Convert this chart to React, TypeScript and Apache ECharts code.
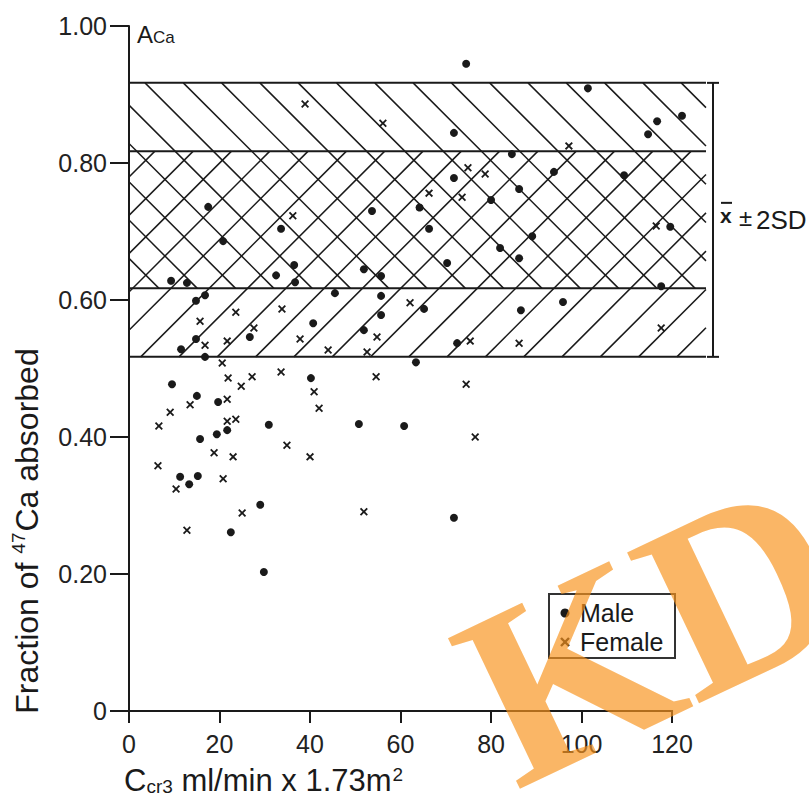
import React, { useEffect, useRef } from "react";
import * as echarts from "echarts";

// ---- data ----
const xTicks = [0, 20, 40, 60, 80, 100, 120];
const yTicks = [0, 0.2, 0.4, 0.6, 0.8, 1.0];

const maleX = [17.5, 53.7, 64.2, 33.6, 20.8, 36.5, 32.5, 9.3, 12.8, 36.7, 51.9, 55.7, 45.5, 55.7, 16.8, 14.8,
  40.7, 55.7, 51.9, 26.7, 14.8, 11.5, 16.8, 63.4, 74.5, 101.4, 116.7, 122.2, 114.7, 71.8, 84.6, 93.9,
  109.4, 71.8, 86.2, 80.0, 66.3, 119.6, 89.1, 82.0, 86.2, 70.3, 117.6, 65.2, 95.9, 86.6, 72.5, 40.2,
  9.5, 15.0, 19.7, 30.9, 50.8, 60.8, 19.4, 21.7, 15.7, 11.3, 15.2, 13.3, 29.0, 22.5, 29.8, 71.8];
const maleY = [0.736, 0.730, 0.735, 0.704, 0.686, 0.651, 0.636, 0.628, 0.625, 0.626, 0.645, 0.635, 0.610, 0.606, 0.607, 0.599,
  0.566, 0.578, 0.556, 0.546, 0.543, 0.528, 0.517, 0.509, 0.945, 0.909, 0.861, 0.869, 0.842, 0.844, 0.813, 0.787,
  0.782, 0.778, 0.762, 0.746, 0.704, 0.707, 0.693, 0.676, 0.661, 0.654, 0.620, 0.587, 0.597, 0.585, 0.537, 0.486,
  0.477, 0.460, 0.451, 0.418, 0.419, 0.416, 0.404, 0.410, 0.397, 0.342, 0.343, 0.331, 0.301, 0.261, 0.203, 0.282];

const femaleX = [38.9, 56.1, 36.2, 62.1, 33.8, 23.6, 15.7, 54.8, 27.6, 37.8, 16.8, 21.7, 44.0, 52.6, 20.6,
  97.2, 74.9, 78.7, 66.3, 73.6, 116.5, 117.6, 75.4, 86.2, 21.9, 24.8, 27.2, 33.6, 40.9, 42.0, 54.6,
  13.5, 21.7, 9.1, 21.7, 23.6, 6.6, 34.9, 40.0, 18.8, 23.0, 6.4, 20.8, 10.4, 25.0, 12.8, 51.9, 74.5, 76.5];
const femaleY = [0.886, 0.858, 0.723, 0.596, 0.587, 0.582, 0.569, 0.546, 0.559, 0.543, 0.534, 0.540, 0.527, 0.524, 0.508,
  0.825, 0.793, 0.784, 0.756, 0.750, 0.708, 0.559, 0.540, 0.537, 0.486, 0.474, 0.488, 0.495, 0.466, 0.442, 0.488,
  0.447, 0.455, 0.436, 0.423, 0.426, 0.416, 0.388, 0.371, 0.377, 0.371, 0.358, 0.339, 0.324, 0.289, 0.264, 0.291, 0.477, 0.400];

const meanA = 0.717;
const sdA = 0.1;
const bandLevels = [meanA - 2 * sdA, meanA - sdA, meanA + sdA, meanA + 2 * sdA];
const bandXMax = 127.5;

const INK = "#1a1a1a";
const FONT = '"Liberation Sans", Arial, sans-serif';
const X_SYMBOL = "path://M1.6,0 L5,3.4 L8.4,0 L10,1.6 L6.6,5 L10,8.4 L8.4,10 L5,6.6 L1.6,10 L0,8.4 L3.4,5 L0,1.6 Z";

export default function App() {
  const ref = useRef<HTMLDivElement>(null);
  useEffect(() => {
    if (!ref.current) return;
    const chart = echarts.init(ref.current, null, { renderer: "svg" });
    const male = maleX.map((x, i) => [x, maleY[i]]);
    const female = femaleX.map((x, i) => [x, femaleY[i]]);

    const renderBands = (params: any, api: any) => {
      const [xl, y0] = api.coord([0, 0]);
      const xr = api.coord([bandXMax, 0])[0];
      const xEnd = api.coord([xTicks[xTicks.length - 1], 0])[0];
      const ys = bandLevels.map((v) => api.coord([0, v])[1]);
      const children: any[] = [];
      const sp = 38.3;
      const hatch = { stroke: INK, lineWidth: 1.5 };
      // "\" hatch from level 1 to level 3
      const yT = ys[3], yB = ys[1];
      for (let k = -40; k < 40; k++) {
        const c = xl + 16 - yT + k * sp;
        const ya = Math.max(yT, xl - c);
        const yb = Math.min(yB, xr - c);
        if (yb - ya > 0.5) children.push({ type: "line", shape: { x1: c + ya, y1: ya, x2: c + yb, y2: yb }, style: hatch });
      }
      // "/" hatch from level 0 to level 2
      const yT2 = ys[2], yB2 = ys[0];
      for (let k = -40; k < 40; k++) {
        const c = xl + 11.7 + yB2 + k * sp;
        const ya = Math.max(yT2, c - xr);
        const yb = Math.min(yB2, c - xl);
        if (yb - ya > 0.5) children.push({ type: "line", shape: { x1: c - ya, y1: ya, x2: c - yb, y2: yb }, style: hatch });
      }
      ys.forEach((y) => children.push({ type: "line", shape: { x1: xl, y1: y, x2: xr, y2: y }, style: { stroke: INK, lineWidth: 2 } }));
      // x axis line
      children.push({ type: "line", shape: { x1: xl - 1, y1: y0, x2: xEnd + 1, y2: y0 }, style: { stroke: INK, lineWidth: 2 } });
      // bracket
      const bx = xr + 7;
      children.push({ type: "line", shape: { x1: bx, y1: ys[3], x2: bx, y2: ys[0] }, style: { stroke: INK, lineWidth: 2 } });
      children.push({ type: "line", shape: { x1: bx - 6, y1: ys[3], x2: bx + 6, y2: ys[3] }, style: { stroke: INK, lineWidth: 2 } });
      children.push({ type: "line", shape: { x1: bx - 6, y1: ys[0], x2: bx + 6, y2: ys[0] }, style: { stroke: INK, lineWidth: 2 } });
      const ym = api.coord([0, meanA])[1];
      children.push({ type: "text", x: bx + 7, y: ym - 4, style: { text: "x", font: `bold 21px ${FONT}`, fill: INK, textAlign: "left", textVerticalAlign: "middle" } });
      children.push({ type: "line", shape: { x1: bx + 8, y1: ym - 17, x2: bx + 19, y2: ym - 17 }, style: { stroke: INK, lineWidth: 2 } });
      children.push({ type: "text", x: bx + 26, y: ym - 2, style: { text: "±", font: `24px ${FONT}`, fill: INK, textAlign: "left", textVerticalAlign: "middle" } });
      children.push({ type: "text", x: bx + 43, y: ym, style: { text: "2SD", font: `26px ${FONT}`, fill: INK, textAlign: "left", textVerticalAlign: "middle" } });
      return { type: "group", children };
    };

    chart.setOption({
      animation: false,
      backgroundColor: "#ffffff",
      grid: { left: 129, right: 103, top: 26, bottom: 86, containLabel: false },
      xAxis: {
        type: "value",
        min: 0,
        max: bandXMax,
        axisLine: { show: false },
        axisTick: { show: true, length: 12, customValues: xTicks, lineStyle: { color: INK, width: 2 } },
        axisLabel: { customValues: xTicks, fontSize: 25, fontFamily: FONT, color: "#222", margin: 20 },
        splitLine: { show: false },
      },
      yAxis: {
        type: "value",
        min: yTicks[0],
        max: yTicks[yTicks.length - 1],
        interval: 0.2,
        axisLine: { show: true, lineStyle: { color: INK, width: 2 } },
        axisTick: { show: true, length: 19, lineStyle: { color: INK, width: 2 } },
        axisLabel: {
          fontSize: 25,
          fontFamily: FONT,
          color: "#222",
          margin: 22,
          formatter: (v: number) => (v === 0 ? "0" : v.toFixed(2)),
        },
        splitLine: { show: false },
      },
      series: [
        { type: "custom", name: "bands", renderItem: renderBands, data: [[0, 0]], clip: false, silent: true, z: 1 },
        { type: "scatter", name: "Male", data: male, symbol: "circle", symbolSize: 8, itemStyle: { color: INK, opacity: 1 }, z: 3 },
        { type: "scatter", name: "Female", data: female, symbol: X_SYMBOL, symbolSize: 8, itemStyle: { color: INK, opacity: 1 }, z: 3 },
      ],
      graphic: [
        {
          type: "text", left: 137, top: 17,
          style: {
            text: "{a|A}{s|Ca}",
            rich: { a: { fontSize: 24, fontFamily: FONT, fill: INK, verticalAlign: "bottom", lineHeight: 27 }, s: { fontSize: 17, fontFamily: FONT, fill: INK, verticalAlign: "bottom", lineHeight: 20, padding: [12, 0, 0, 0] } },
          },
        },
        {
          type: "text", x: 27, y: 531, rotation: Math.PI / 2,
          style: {
            text: "{a|Fraction of }{s|47}{a|Ca absorbed}",
            textAlign: "center", textVerticalAlign: "middle",
            rich: { a: { fontSize: 32, fontFamily: FONT, fill: INK, lineHeight: 36 }, s: { fontSize: 19, fontFamily: FONT, fill: INK, verticalAlign: "top", lineHeight: 36, padding: [0, 1, 12, 0] } },
          },
        },
        {
          type: "text", x: 124, y: 780,
          style: {
            text: "{a|C}{s|cr3}{a| ml/min x 1.73m}{p|2}",
            textAlign: "left", textVerticalAlign: "middle",
            rich: { a: { fontSize: 31, fontFamily: FONT, fill: INK, lineHeight: 34 }, s: { fontSize: 19, fontFamily: FONT, fill: INK, padding: [12, 0, 0, 0], lineHeight: 34 }, p: { fontSize: 19, fontFamily: FONT, fill: INK, padding: [0, 0, 12, 1], lineHeight: 34 } },
          },
        },
        { type: "rect", shape: { x: 549, y: 594, width: 126, height: 64 }, style: { fill: "#fff", stroke: "#333", lineWidth: 2 }, z: 10 },
        { type: "circle", shape: { cx: 565, cy: 613, r: 4.5 }, style: { fill: INK }, z: 11 },
        { type: "line", shape: { x1: 561, y1: 638, x2: 569, y2: 646 }, style: { stroke: INK, lineWidth: 2.4 }, z: 11 },
        { type: "line", shape: { x1: 569, y1: 638, x2: 561, y2: 646 }, style: { stroke: INK, lineWidth: 2.4 }, z: 11 },
        { type: "text", x: 580, y: 613, style: { text: "Male", font: `25px ${FONT}`, fill: INK, textVerticalAlign: "middle" }, z: 11 },
        { type: "text", x: 580, y: 642, style: { text: "Female", font: `25px ${FONT}`, fill: INK, textVerticalAlign: "middle" }, z: 11 },
        {
          type: "text", x: 424, y: 598, rotation: (25.5 * Math.PI) / 180,
          style: { text: "KD", font: 'bold 255px "Liberation Serif", serif', fill: "#F7941D", opacity: 0.68, textAlign: "left", textVerticalAlign: "top" },
          z: 100,
        },
      ],
    });
    return () => chart.dispose();
  }, []);
  return <div ref={ref} style={{ width: 809, height: 797, position: "absolute", left: 0, top: 0 }} />;
}
